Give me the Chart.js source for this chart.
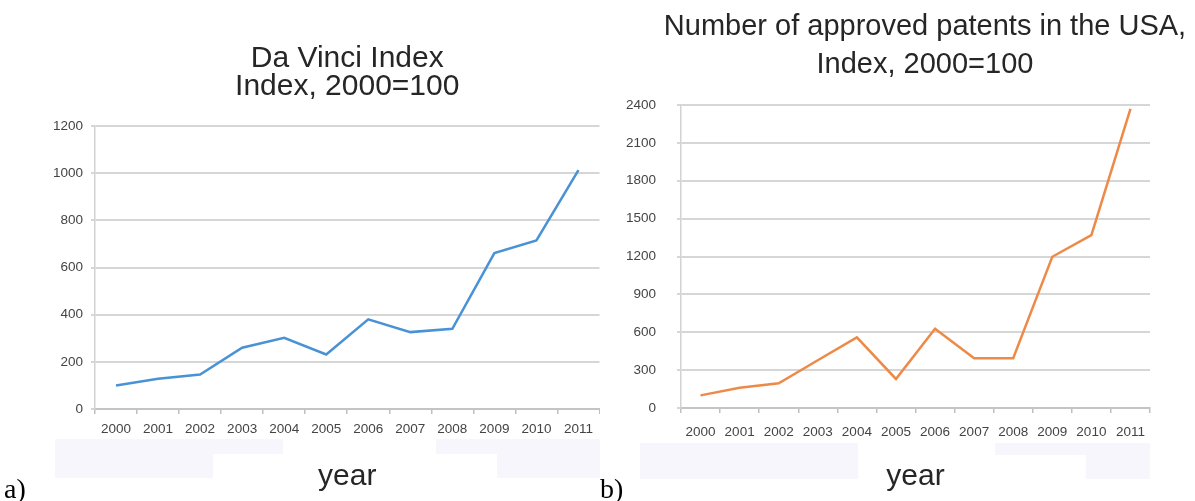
<!DOCTYPE html>
<html>
<head>
<meta charset="utf-8">
<script src="https://cdn.jsdelivr.net/npm/chart.js@4.4.1/dist/chart.umd.min.js"></script>
<style>
  html, body { margin: 0; padding: 0; background: #ffffff; }
  body { position: relative; width: 1195px; height: 501px; overflow: hidden; }
  .band { position: absolute; background: #f6f6fc; }
  canvas { position: absolute; top: 0; }
  .tag {
    position: absolute;
    font-family: 'Liberation Serif', 'Times New Roman', serif;
    font-size: 28px;
    line-height: 28px;
    color: #000;
  }
</style>
</head>
<body>
<!-- faint shaded strips under the x axes, as in the scanned figure -->
<div class="band" style="left:55px;top:439px;width:228px;height:15px"></div>
<div class="band" style="left:55px;top:454px;width:158px;height:24px"></div>
<div class="band" style="left:436px;top:439px;width:164px;height:15px"></div>
<div class="band" style="left:497px;top:454px;width:103px;height:24px"></div>
<div class="band" style="left:640px;top:443px;width:218px;height:36px"></div>
<div class="band" style="left:995px;top:443px;width:155px;height:12px"></div>
<div class="band" style="left:1086px;top:455px;width:64px;height:24px"></div>

<canvas id="chartA" width="600" height="501" style="left:0"></canvas>
<!-- wider than the window on purpose: the title is centred on the whole panel -->
<canvas id="chartB" width="650" height="501" style="left:600px"></canvas>

<div class="tag" style="left:4px;top:475px">a)</div>
<div class="tag" style="left:600px;top:475px">b)</div>

<script>
const years = ['2000', '2001', '2002', '2003', '2004', '2005', '2006', '2007', '2008', '2009', '2010', '2011'];

// Da Vinci Index, 2000 = 100
const daVinciIndex = [100, 128, 146, 260, 302, 231, 380, 326, 340, 661, 715, 1013];
const daVinciTicks = [0, 200, 400, 600, 800, 1000, 1200];

// Approved patents in the USA, 2000 = 100
const patentsIndex = [100, 161, 196, 378, 560, 230, 628, 395, 395, 1198, 1370, 2370];
const patentsTicks = [0, 300, 600, 900, 1200, 1500, 1800, 2100, 2400];

const FONT = "'Liberation Sans', Arial, sans-serif";
const TICK_COLOR = '#444444';
const GRID_COLOR = '#d6d6d6';

function buildConfig(opts) {
  const scales = {
    x: {
      offset: true,
      afterFit: (scale) => { scale.height = opts.xHeight; },
      grid: {
        offset: true,
        drawOnChartArea: false,
        drawTicks: true,
        tickLength: 5,
        color: '#bfbfbf',
        lineWidth: 1.5
      },
      border: { display: true, color: '#c4c4c4', width: 2 },
      ticks: {
        color: TICK_COLOR,
        padding: opts.xTickPad,
        maxRotation: 0,
        autoSkip: false,
        font: { family: FONT, size: 13.5 }
      },
      title: {
        display: true,
        text: 'year',
        color: '#262626',
        padding: { top: 0, bottom: 6 },
        font: { family: FONT, size: 30 }
      }
    },
    y: {
      min: opts.ticks[0],
      max: opts.ticks[opts.ticks.length - 1],
      afterFit: (scale) => { scale.width = opts.yWidth; },
      afterBuildTicks: (scale) => {
        scale.ticks = opts.ticks.map(v => ({ value: v }));
      },
      grid: {
        color: GRID_COLOR,
        lineWidth: 2,
        drawTicks: true,
        tickLength: 4
      },
      border: { display: true, color: '#d2d2d2', width: 1.5 },
      ticks: {
        color: TICK_COLOR,
        padding: opts.yTickPad,
        callback: (value) => String(value),
        font: { family: FONT, size: 13.5 }
      }
    }
  };

  if (opts.rightGap) {
    // empty right axis keeps the plot narrower than the canvas
    scales.yRight = {
      position: 'right',
      display: true,
      afterFit: (scale) => { scale.width = opts.rightGap; },
      grid: { drawOnChartArea: false, drawTicks: false },
      border: { display: false },
      ticks: { display: false }
    };
  }

  return {
    type: 'line',
    data: {
      labels: years,
      datasets: [{
        label: opts.title.join(' '),
        data: opts.values,
        borderColor: opts.color,
        borderWidth: 2.5,
        pointRadius: 0,
        tension: 0,
        fill: false
      }]
    },
    options: {
      responsive: false,
      animation: false,
      layout: { padding: 0 },
      plugins: {
        legend: { display: false },
        tooltip: { enabled: false },
        title: {
          display: true,
          text: opts.title,
          color: '#262626',
          fullSize: opts.titleFull,
          padding: opts.titlePad,
          font: { family: FONT, size: opts.titleSize, weight: 'normal', lineHeight: opts.titleLine }
        }
      },
      scales: scales
    }
  };
}

new Chart(document.getElementById('chartA'), buildConfig({
  values: daVinciIndex,
  ticks: daVinciTicks,
  color: '#4a92d6',
  title: ['Da Vinci Index', 'Index, 2000=100'],
  titleSize: 30,
  titleLine: '28px',
  titlePad: { top: 44.6, bottom: 25.4 },
  titleFull: false,
  yWidth: 95,
  yTickPad: 8,
  xHeight: 92,
  xTickPad: 7
}));

new Chart(document.getElementById('chartB'), buildConfig({
  values: patentsIndex,
  ticks: patentsTicks,
  color: '#ee8a47',
  title: ['Number of approved patents in the USA,', 'Index, 2000=100'],
  titleSize: 29,
  titleLine: '38px',
  titlePad: { top: 7.5, bottom: 21.5 },
  titleFull: true,
  yWidth: 81,
  yTickPad: 21,
  rightGap: 100,
  xHeight: 93,
  xTickPad: 11
}));
</script>
</body>
</html>
